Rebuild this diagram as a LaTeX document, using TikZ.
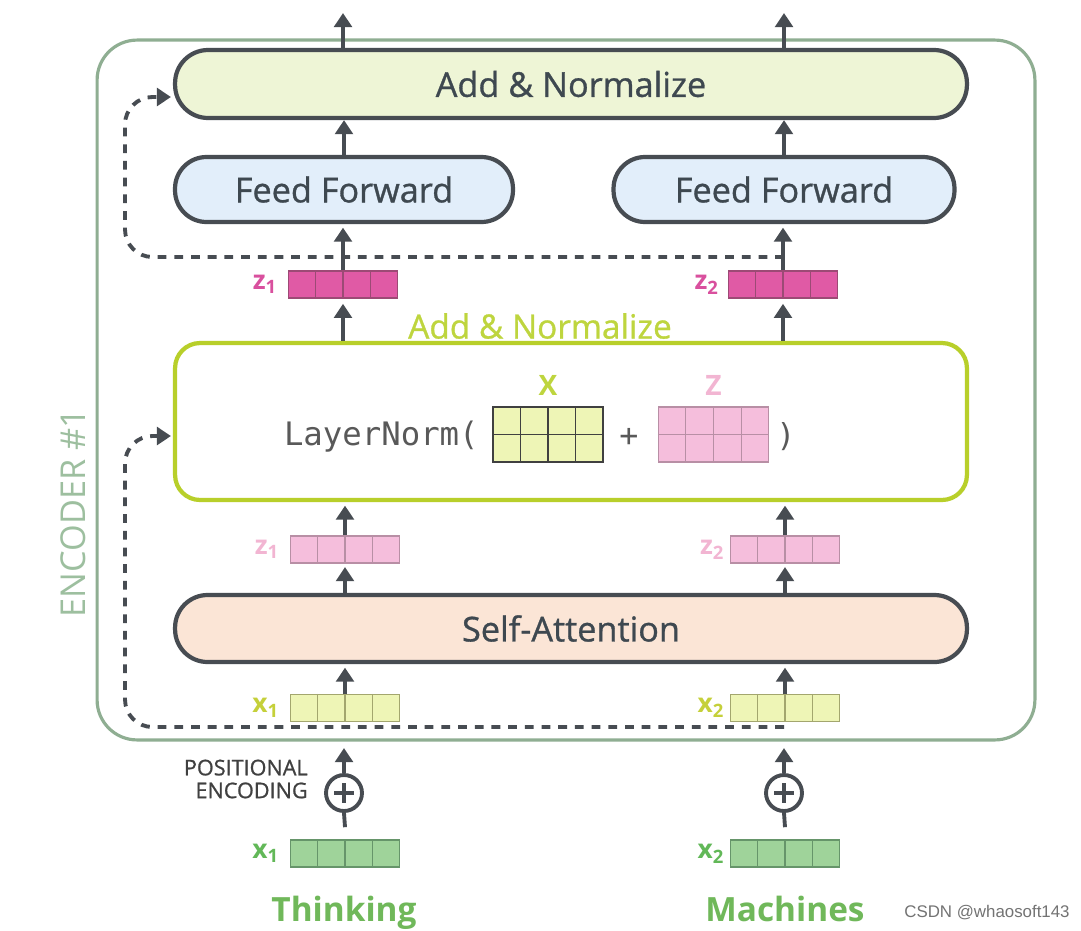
\documentclass[tikz,border=0pt]{standalone}
\usepackage{fontspec}
\setmainfont{Open Sans}
\setmonofont{DejaVu Sans Mono}
\newfontfamily\wmfont{Liberation Sans}
\newfontfamily\semib[FakeBold=0.9]{Open Sans}
\usetikzlibrary{arrows.meta,calc}
\definecolor{dk}{HTML}{474C52}
\definecolor{tx}{HTML}{3E4850}
\definecolor{encc}{HTML}{8FAE92}
\definecolor{enct}{HTML}{9DBF9F}
\definecolor{anfill}{HTML}{EEF5D6}
\definecolor{fffill}{HTML}{E2EEFA}
\definecolor{safill}{HTML}{FBE5D6}
\definecolor{lime}{HTML}{B8CF2A}
\definecolor{limet}{HTML}{BED53E}
\definecolor{zdark}{HTML}{E05AA5}
\definecolor{zdarkb}{HTML}{9C4A75}
\definecolor{zdarkt}{HTML}{D9509E}
\definecolor{zlight}{HTML}{F5BEDC}
\definecolor{zlightb}{HTML}{B88FA5}
\definecolor{zlightt}{HTML}{F2B5D2}
\definecolor{xlight}{HTML}{EEF5B6}
\definecolor{xlightb}{HTML}{A3A66E}
\definecolor{xlightt}{HTML}{C5D03A}
\definecolor{xgreen}{HTML}{9FD39A}
\definecolor{xgreenb}{HTML}{66956A}
\definecolor{xgreent}{HTML}{62B858}
\definecolor{gtext}{HTML}{70B85A}
\newcommand\myvec[5]{%
  \node[vecbox,fill=#4,draw=#5] (#1) at (#2,#3) {};
  \foreach \k in {1,2,3}
    \draw[#5,line width=0.6pt] ($(#1.north west)!{\k/4}!(#1.north east)$) -- ($(#1.south west)!{\k/4}!(#1.south east)$);
}
\newcommand\mymat[5]{%
  \node[matbox,fill=#4,draw=#5] (#1) at (#2,#3) {};
  \foreach \k in {1,2,3}
    \draw[#5,line width=0.6pt] ($(#1.north west)!{\k/4}!(#1.north east)$) -- ($(#1.south west)!{\k/4}!(#1.south east)$);
  \draw[#5,line width=0.6pt] (#1.west) -- (#1.east);
}
\begin{document}
\begin{tikzpicture}[x=0.02cm,y=-0.02cm,
  arr/.style={draw=dk, line width=2.2pt, -{Triangle[width=10pt,length=8pt]}},
  plain/.style={draw=dk, line width=2.2pt},
  dres/.style={draw=dk, line width=2.2pt, dash pattern=on 5pt off 4.5pt, -{Triangle[width=10pt,length=8pt]}},
  pill/.style={draw=dk, line width=2.4pt, text=tx, font=\fontsize{19.5}{22}\semib, inner sep=0pt},
  vecbox/.style={minimum width=2.18cm, minimum height=0.54cm, inner sep=0pt, line width=0.6pt},
  matbox/.style={minimum width=2.2cm, minimum height=1.1cm, inner sep=0pt, line width=0.6pt},
  lab/.style={font=\fontsize{15}{18}\selectfont\bfseries, anchor=east, inner sep=0pt},
]
\useasboundingbox[fill=white] (0,0) rectangle (1081,930);

% encoder frame
\node[draw=encc, line width=1.8pt, rounded corners=0.8cm, minimum width=18.76cm, minimum height=14cm] (enc) at (566,390) {};
\node[rotate=90, text=enct, font=\fontsize{19.5}{22}\selectfont] (encl) at (73,513) {ENCODER \#1};

% boxes
\node[pill, fill=anfill, rounded corners=0.66cm, minimum width=15.84cm, minimum height=1.36cm] (an) at (571,84) {Add \& Normalize};
\node[pill, fill=fffill, rounded corners=0.63cm, minimum width=6.76cm, minimum height=1.3cm] (ff1) at (344,189.5) {Feed Forward};
\node[pill, fill=fffill, rounded corners=0.63cm, minimum width=6.82cm, minimum height=1.3cm] (ff2) at (784,189.5) {Feed Forward};
\node[draw=lime, line width=2.4pt, fill=white, rounded corners=0.5cm, minimum width=15.84cm, minimum height=3.14cm] (mid) at (571,421.5) {};
\node[pill, fill=safill, rounded corners=0.65cm, minimum width=15.84cm, minimum height=1.34cm] (sa) at (571,628.5) {Self-Attention};

\node[text=limet, font=\fontsize{19}{22}\semib] (antxt) at (540,326) {Add \& Normalize};

% LayerNorm content
\node[anchor=east, text=black!65, font=\fontsize{18.4}{20}\ttfamily, inner sep=0pt] (ln) at (479,437) {LayerNorm(};
\mymat{mx}{548}{434.5}{xlight}{black!75}
\mymat{mz}{713.5}{434.5}{zlight}{zlightb}
\node[text=black!65, font=\fontsize{18}{20}\ttfamily, inner sep=0pt] (plus) at (629,437) {+};
\node[text=black!65, font=\fontsize{18}{20}\ttfamily, inner sep=0pt] (rp) at (786,437) {)};
\node[text=limet, font=\fontsize{16}{18}\selectfont\bfseries] (xl) at (548,385) {X};
\node[text=zlightt, font=\fontsize{16}{18}\selectfont\bfseries] (zl) at (713.5,385) {Z};

% vectors
\myvec{z1t}{343}{284.5}{zdark}{zdarkb}
\myvec{z2t}{783}{284.5}{zdark}{zdarkb}
\myvec{z1l}{345}{549.5}{zlight}{zlightb}
\myvec{z2l}{785}{549.5}{zlight}{zlightb}
\myvec{x1l}{345}{708}{xlight}{xlightb}
\myvec{x2l}{785}{708}{xlight}{xlightb}
\myvec{x1b}{345}{853.5}{xgreen}{xgreenb}
\myvec{x2b}{785}{853.5}{xgreen}{xgreenb}

\node[lab, text=zdarkt] (lz1t) at ([xshift=-6pt]z1t.west) {z\textsubscript{1}};
\node[lab, text=zdarkt] (lz2t) at ([xshift=-5pt]z2t.west) {z\textsubscript{2}};
\node[lab, text=zlightt] (lz1l) at ([xshift=-6pt]z1l.west) {z\textsubscript{1}};
\node[lab, text=zlightt] (lz2l) at ([xshift=-3pt]z2l.west) {z\textsubscript{2}};
\node[lab, text=xlightt] (lx1l) at ([xshift=-6pt]x1l.west) {x\textsubscript{1}};
\node[lab, text=xlightt] (lx2l) at ([xshift=-3pt]x2l.west) {x\textsubscript{2}};
\node[lab, text=xgreent] (lx1b) at ([xshift=-6pt]x1b.west) {x\textsubscript{1}};
\node[lab, text=xgreent] (lx2b) at ([xshift=-3pt]x2b.west) {x\textsubscript{2}};

% positional encoding
\node[draw=dk, line width=2.2pt, circle, minimum size=0.72cm, inner sep=0pt, fill=white] (p1) at (344,793) {};
\node[draw=dk, line width=2.2pt, circle, minimum size=0.72cm, inner sep=0pt, fill=white] (p2) at (784,793) {};
\foreach \p in {p1,p2}{
  \draw[dk, line width=2.2pt] ([xshift=-5.5pt]\p.center) -- ([xshift=5.5pt]\p.center);
  \draw[dk, line width=2.2pt] ([yshift=-5.5pt]\p.center) -- ([yshift=5.5pt]\p.center);
}
\node[anchor=east, align=right, text=black!75, font=\fontsize{12.3}{13}\semib, inner sep=0pt] (pe) at (308,779) {POSITIONAL\\ENCODING};

\node[anchor=base, text=gtext, font=\fontsize{19}{22}\selectfont\bfseries] (w1) at (344,921) {Thinking};
\node[anchor=base, text=gtext, font=\fontsize{19}{22}\selectfont\bfseries] (w2) at (785,921) {Machines};
\node[text=black!55, font=\fontsize{9.6}{12}\wmfont] (wm) at (987,913) {CSDN @whaosoft143};

% coordinates
\coordinate (o1) at (343,13);
\coordinate (o2) at (784,13);
\coordinate (e1) at (344,748);
\coordinate (e2) at (784,748);
\coordinate (d1) at (784,257);
\coordinate (t1) at (171,97);
\coordinate (d2) at (784,727);
\coordinate (t2) at (171,436);

% dashed residuals
\draw[dres, rounded corners=0.55cm] (d1) -- (125,257) -- (125,97) -- (t1);
\draw[dres, rounded corners=0.55cm] (d2) -- (125,727) -- (125,436) -- (t2);

% arrows
\draw[arr] (an.north -| o1) -- (o1);
\draw[arr] (an.north -| o2) -- (o2);
\draw[arr] (ff1.north) -- (ff1.north |- an.south);
\draw[arr] (ff2.north) -- (ff2.north |- an.south);
\draw[arr, shorten >=2pt] (z1t.north) -- (z1t.north |- ff1.south);
\draw[arr, shorten >=2pt] (z2t.north) -- (z2t.north |- ff2.south);
\draw[arr, shorten >=3pt] (z1t.south |- mid.north) -- (z1t.south);
\draw[arr, shorten >=3pt] (z2t.south |- mid.north) -- (z2t.south);
\draw[arr, shorten >=2pt] (z1l.north) -- (z1l.north |- mid.south);
\draw[arr, shorten >=2pt] (z2l.north) -- (z2l.north |- mid.south);
\draw[arr, shorten >=2pt] (z1l.south |- sa.north) -- (z1l.south);
\draw[arr, shorten >=2pt] (z2l.south |- sa.north) -- (z2l.south);
\draw[arr, shorten >=2pt] (x1l.north) -- (x1l.north |- sa.south);
\draw[arr, shorten >=2pt] (x2l.north) -- (x2l.north |- sa.south);
\draw[arr] (p1.north) -- (e1);
\draw[arr] (p2.north) -- (e2);
\draw[plain] ([yshift=7pt]x1b.north) -- (p1.south);
\draw[plain] ([yshift=7pt]x2b.north) -- (p2.south);
\end{tikzpicture}
\end{document}
